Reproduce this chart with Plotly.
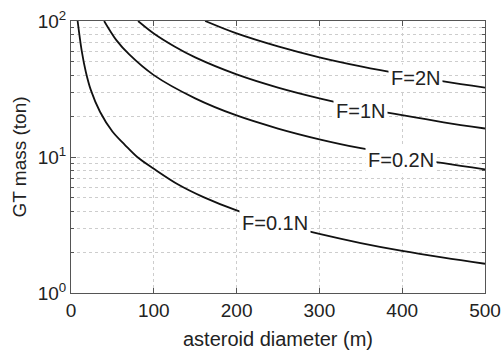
import math
import plotly.graph_objects as go

# Data (asteroid diameter in m, GT mass in ton)
d_01 = [8, 13, 18, 24, 35, 50, 65, 80, 100, 130, 160, 200, 250, 300, 350, 400, 450, 500]
m_01 = [100, 60, 42, 31, 21.5, 15.4, 12.3, 10, 8.2, 6.25, 5.07, 4.05, 3.25, 2.72, 2.33, 2.04, 1.82, 1.64]

d_02 = [40, 55, 70, 100, 150, 200, 250, 300, 350, 400, 450, 500]
m_02 = [100, 72, 57, 40, 27, 20.2, 16.2, 13.5, 11.6, 10.2, 9.0, 8.1]

d_1 = [81, 100, 125, 150, 200, 250, 300, 350, 400, 450, 500]
m_1 = [100, 81, 65, 54, 40.5, 32.4, 27, 23.1, 20.3, 18, 16.2]

d_2 = [162, 200, 250, 300, 350, 400, 450, 500]
m_2 = [100, 81, 65, 54, 46.3, 40.5, 36, 32.4]

labels = ["F=0.1N", "F=0.2N", "F=1N", "F=2N"]
x_ticks = [0, 100, 200, 300, 400, 500]
y_ticks = [1, 10, 100]
y_ticktext = ["10<sup>0</sup>", "10<sup>1</sup>", "10<sup>2</sup>"]
y_minor = [2, 3, 4, 5, 6, 7, 8, 9, 20, 30, 40, 50, 60, 70, 80, 90]

FONT = "Liberation Sans, Arial, sans-serif"
GRID = "#cdcdcd"

fig = go.Figure()
for xs, ys in [(d_01, m_01), (d_02, m_02), (d_1, m_1), (d_2, m_2)]:
    fig.add_trace(go.Scatter(x=xs, y=ys, mode="lines",
                             line=dict(color="#111111", width=1.8, shape="spline", smoothing=1.0),
                             showlegend=False, hoverinfo="skip"))

label_pos = [(246, 3.25), (399, 9.5), (350, 21.9), (416, 37.9)]
for txt, (lx, ly) in zip(labels, label_pos):
    fig.add_annotation(x=lx, y=math.log10(ly), yref="y", xref="x", text=txt, showarrow=False,
                       font=dict(family=FONT, size=20, color="#222222"),
                       bgcolor="white", borderpad=2)

fig.update_layout(
    width=501, height=351,
    margin=dict(l=71, r=16, t=21, b=58, autoexpand=False),
    paper_bgcolor="white", plot_bgcolor="white",
    font=dict(family=FONT, size=19, color="#222222"),
)
fig.update_xaxes(
    range=[0, 500], tickvals=x_ticks, showgrid=True, gridcolor=GRID,
    griddash="dot", gridwidth=1, zeroline=False, showline=True, linecolor="#555555",
    linewidth=1, mirror="ticks", ticks="inside", ticklen=5, tickcolor="#555555",
    title=dict(text="asteroid diameter (m)", font=dict(size=20), standoff=12),
    tickfont=dict(size=19), automargin=False,
)
fig.update_yaxes(
    type="log", range=[0, 2], tickvals=y_ticks, ticktext=y_ticktext,
    showgrid=True, gridcolor=GRID, griddash="dot", gridwidth=1,
    zeroline=False, showline=True, linecolor="#555555", linewidth=1, mirror="ticks",
    ticks="inside", ticklen=5, tickcolor="#555555",
    minor=dict(tickvals=y_minor, showgrid=True, gridcolor=GRID, griddash="dot",
               ticks="inside", ticklen=3, tickcolor="#555555"),
    title=dict(text="GT mass (ton)", font=dict(size=19), standoff=6),
    tickfont=dict(size=19), automargin=False,
)

fig.write_html("out.html", config={"displayModeBar": False},
               post_script="document.body.style.margin='0px';")
